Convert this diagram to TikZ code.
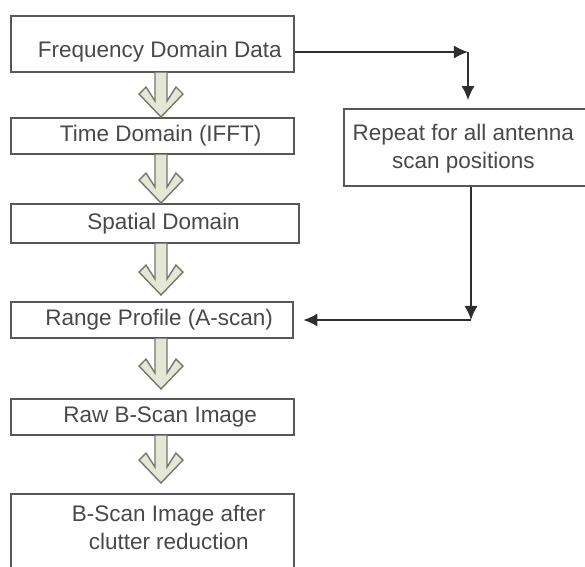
\documentclass[tikz,border=0pt]{standalone}
\usepackage{fontspec}
\setmainfont{Liberation Sans}
\usetikzlibrary{calc,arrows.meta}
\definecolor{boxline}{RGB}{88,88,88}
\definecolor{labeltext}{RGB}{72,72,72}
\definecolor{chevfill}{RGB}{228,231,212}
\definecolor{chevline}{RGB}{118,120,110}
\tikzset{
  stage/.style={draw=boxline, line width=0.9pt, anchor=north west, minimum width=5.66cm},
  stagetext/.style={text=labeltext, font=\fontsize{12.8}{15.8}\selectfont, align=center},
  chev/.style={draw=chevline, fill=chevfill, line width=0.8pt},
  feed/.style={draw=black!82, line width=0.9pt, -{Latex[length=8pt,width=7.5pt]}},
}
% hollow block arrow between two stages, #1 = gap above the next stage (px)
\newcommand{\chevron}[3][0]{%
  \path (chx |- #2.south) coordinate (ctop) (chx |- #3.north) coordinate (cbase);
  \path ($(cbase)+(0,-#1)$) coordinate (ctip);
  \draw[chev] ($(ctop)+(-6,0)$) -- ($(ctip)+(-6,-16)$) -- ($(ctip)+(-15,-30)$)
    -- ($(ctip)+(-22,-23)$) -- (ctip) -- ($(ctip)+(22,-23)$) -- ($(ctip)+(15,-30)$)
    -- ($(ctip)+(6,-16)$) -- ($(ctop)+(6,0)$);}
\begin{document}
\begin{tikzpicture}[x=0.02cm,y=-0.02cm]
\useasboundingbox (0,0) rectangle (585,566);
\coordinate (chx) at (161,0);
\node[stage, minimum height=1.12cm, label={[stagetext,xshift=4.3pt,yshift=-4.6pt]center:Frequency Domain Data}] (freq) at (10,15) {};
\node[stage, minimum height=0.72cm, label={[stagetext,xshift=4.8pt]center:Time Domain (IFFT)}] (time) at (10,117) {};
\node[stage, minimum width=5.76cm, minimum height=0.78cm, label={[stagetext,xshift=5pt]center:Spatial Domain}] (spatial) at (10,203) {};
\node[stage, minimum width=5.64cm, minimum height=0.72cm, label={[stagetext,xshift=4.2pt]center:Range Profile (A-scan)}] (range) at (10,301) {};
\node[stage, minimum height=0.72cm, label={[stagetext,xshift=4.5pt]center:Raw B-Scan Image}] (raw) at (10,398) {};
\node[stage, minimum height=1.8cm, label={[stagetext,xshift=9.4pt,yshift=6.5pt]center:{B-Scan Image after\\clutter reduction}}] (clean) at (10,493) {};
\node[stage, minimum width=5.34cm, minimum height=1.54cm, label={[stagetext,xshift=-7.9pt,yshift=-0.6pt]center:{Repeat for all antenna\\scan positions}}] (repeat) at (343,108) {};
\chevron{freq}{time}
\chevron{time}{spatial}
\chevron[6]{spatial}{range}
\chevron[9]{range}{raw}
\chevron[10]{raw}{clean}
\coordinate (turn) at (468,52);
\coordinate (back) at (471,320);
\draw[feed] (turn -| freq.east) -- (turn);
\draw[feed, shorten >=4.5pt] (turn) -- (turn |- repeat.north);
\draw[feed] (repeat.south -| back) -- (back);
\draw[feed, shorten >=5.6pt] (back) -- (back -| range.east);
\end{tikzpicture}
\end{document}
